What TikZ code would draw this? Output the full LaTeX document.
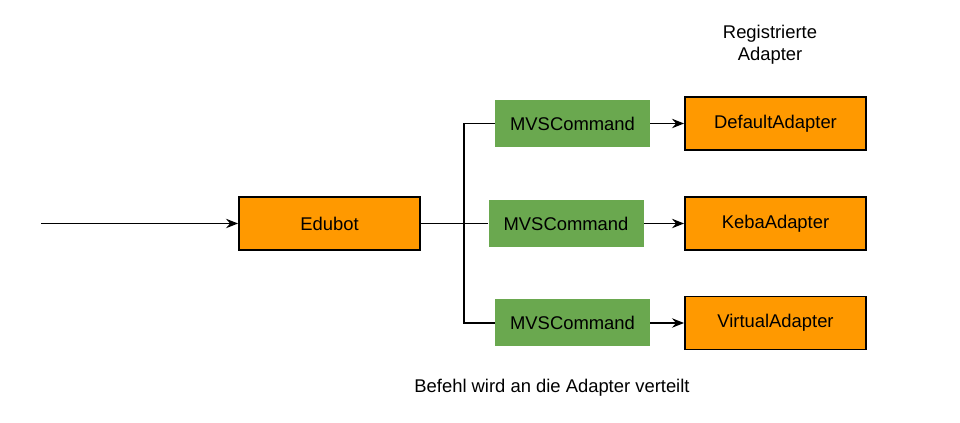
\documentclass[tikz,border=0pt]{standalone}
\usepackage{fontspec}
\setmainfont{Liberation Sans}
\usetikzlibrary{arrows.meta}
\definecolor{boxorange}{HTML}{FF9900}
\definecolor{boxgreen}{HTML}{6AA84F}
\begin{document}
\begin{tikzpicture}[x=0.75pt,y=-0.75pt,
  every node/.style={font=\fontsize{13.8}{16.5}\selectfont, inner sep=0pt},
  orangebox/.style={draw=black, fill=boxorange, line width=1.4pt, minimum width=181*0.75pt, minimum height=53*0.75pt},
  greenbox/.style={fill=boxgreen, minimum width=155*0.75pt, minimum height=47*0.75pt},
  conn/.style={line width=1.4pt, draw=black},
  arr/.style={conn, -{Stealth[length=9pt, width=7pt, inset=3pt]}}]
\useasboundingbox (0,0) rectangle (960,423);
\node[orangebox] (edubot) at (329.5,223.5) {Edubot};
\node[greenbox] (cmdA) at (572.5,123.5) {MVSCommand};
\node[greenbox] (cmdB) at (566,223.5) {MVSCommand};
\node[greenbox] (cmdC) at (572.5,323) {MVSCommand};
\node[orangebox] (adA) at (775.5,123.5) {DefaultAdapter};
\node[orangebox] (adB) at (775.5,223.5) {KebaAdapter};
\node[orangebox] (adC) at (775.5,323) {VirtualAdapter};
\node[align=center] (title) at (770,45) {Registrierte\\Adapter};
\node (caption) at (552,388) {Befehl wird an die Adapter verteilt};
\coordinate (input) at (41,223.5);
\coordinate (fork) at (464,223.5);
\draw[arr] (input) -- (edubot.west);
\draw[conn] (edubot.east) -- (fork) -- (cmdB.west);
\draw[conn] (cmdA.west) -| (fork) |- (cmdC.west);
\draw[arr] (cmdA.east) -- (adA.west);
\draw[arr] (cmdB.east) -- (adB.west);
\draw[arr] (cmdC.east) -- (adC.west);
\end{tikzpicture}
\end{document}
